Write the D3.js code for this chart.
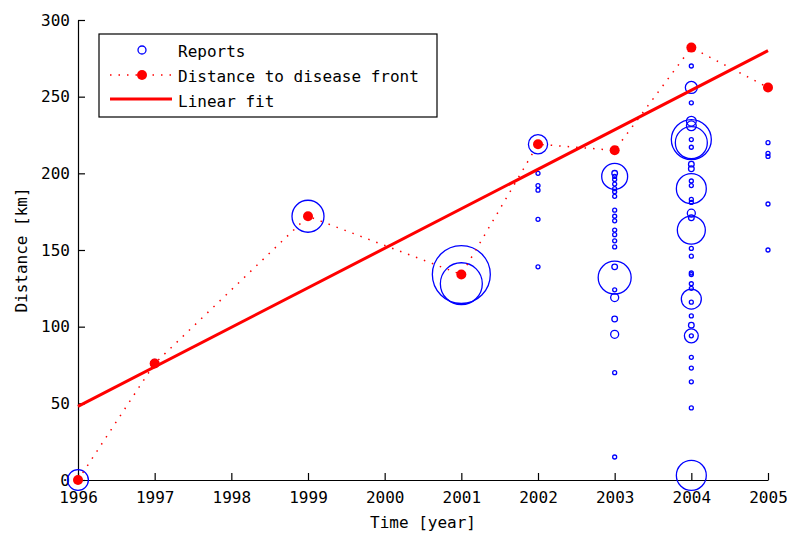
<!DOCTYPE html>
<html>
<head>
<meta charset="utf-8">
<script src="https://cdn.jsdelivr.net/npm/d3@7"></script>
<style>
  body { margin: 0; background: #fff; }
  text { font-family: "DejaVu Sans Mono", monospace; }
</style>
</head>
<body>
<div id="chart"></div>
<script>
// Distance to disease front per year
var frontYears = [1996, 1997, 1999, 2001, 2002, 2003, 2004, 2005];
var frontDist  = [0, 76, 172, 134, 219, 215, 282, 256];

// Linear fit end points
var fitYears = [1996, 2005];
var fitDist  = [48, 280];

// Individual reports: year, distance [km], number of reports (marker size)
var reportYear = [
  1996, 1997, 1999, 2001, 2001,
  2002, 2002, 2002, 2002, 2002, 2002,
  2003, 2003, 2003, 2003, 2003, 2003, 2003, 2003, 2003, 2003, 2003, 2003, 2003, 2003,
  2003, 2003, 2003, 2003, 2003, 2003, 2003, 2003, 2003,
  2004, 2004, 2004, 2004, 2004, 2004, 2004, 2004, 2004, 2004, 2004, 2004,
  2004, 2004, 2004, 2004, 2004, 2004, 2004, 2004, 2004, 2004, 2004, 2004,
  2004, 2004, 2004, 2004, 2004, 2004, 2004, 2004, 2004, 2004, 2004, 2004,
  2005, 2005, 2005, 2005, 2005
];
var reportDist = [
  0, 76, 172, 134, 128,
  219, 200, 192, 189, 170, 139,
  198, 200, 198, 196, 193, 190, 188, 185, 176, 172, 169, 163, 160, 156,
  152, 132, 139, 119, 124, 105, 95, 70, 15,
  270, 256, 246, 234, 231, 222, 220, 222, 217, 206, 203, 190,
  195, 192, 183, 181, 174, 171, 163, 151, 146, 135, 134, 128,
  125, 118, 116, 107, 101, 94, 94, 80, 73, 64, 47, 3,
  220, 213, 211, 180, 150
];
var reportCount = [
  27, 4, 64, 210, 110,
  23, 1, 1, 1, 1, 1,
  42, 2, 1, 1, 1, 1, 1, 1, 1, 1, 1, 1, 1, 1,
  1, 68, 2, 4, 1, 2, 4, 1, 1,
  1, 9, 1, 6, 6, 100, 64, 1, 1, 2, 2, 56,
  1, 1, 1, 1, 4, 2, 49, 1, 1, 1, 1, 1,
  1, 25, 1, 1, 2, 12, 1, 1, 1, 1, 1, 56,
  1, 1, 1, 1, 1
];

var yTicks = [0, 50, 100, 150, 200, 250, 300];
var xTicks = [1996, 1997, 1998, 1999, 2000, 2001, 2002, 2003, 2004, 2005];

var W = 787, H = 536;
var plot = {left: 78, right: 768, top: 20, bottom: 480};

var svg = d3.select("#chart").append("svg")
    .attr("width", W)
    .attr("height", H);

svg.append("rect").attr("width", W).attr("height", H).attr("fill", "#fff");

var x = d3.scaleLinear().domain([1996, 2005]).range([plot.left, plot.right]);
var y = d3.scaleLinear().domain([0, 300]).range([plot.bottom, plot.top]);
var r = d3.scaleSqrt().domain([0, 1]).range([0, 2]);

// Axes (ticks point inward, no box)
var xAxis = svg.append("g")
    .attr("transform", "translate(0," + plot.bottom + ")")
    .call(d3.axisBottom(x).tickValues(xTicks).tickFormat(d3.format("d"))
        .tickSize(-7).tickSizeOuter(0).tickPadding(12));
var yAxis = svg.append("g")
    .attr("transform", "translate(" + plot.left + ",0)")
    .call(d3.axisLeft(y).tickValues(yTicks)
        .tickSize(-7).tickSizeOuter(0).tickPadding(8));

[xAxis, yAxis].forEach(function(g) {
  g.selectAll("path, line").attr("stroke", "#000").attr("stroke-width", 1.2);
  g.selectAll("text")
    .attr("fill", "#000")
    .style("font-family", "'DejaVu Sans Mono', monospace")
    .style("font-size", "16px");
});

// Axis labels
svg.append("text")
    .attr("x", (plot.left + plot.right) / 2)
    .attr("y", 528)
    .attr("text-anchor", "middle")
    .attr("font-size", 16)
    .text("Time [year]");

svg.append("text")
    .attr("transform", "translate(27," + (plot.top + plot.bottom) / 2 + ") rotate(-90)")
    .attr("text-anchor", "middle")
    .attr("font-size", 16)
    .text("Distance [km]");

// Reports
var reports = reportYear.map(function(d, i) {
  return {year: d, dist: reportDist[i], count: reportCount[i]};
});

svg.selectAll(".report")
    .data(reports)
    .enter().append("circle")
    .attr("class", "report")
    .attr("cx", function(d) { return x(d.year); })
    .attr("cy", function(d) { return y(d.dist); })
    .attr("r", function(d) { return r(d.count); })
    .attr("fill", "none")
    .attr("stroke", "#0000ff")
    .attr("stroke-width", 1.3);

// Linear fit
var line = d3.line()
    .x(function(d) { return x(d[0]); })
    .y(function(d) { return y(d[1]); });

svg.append("path")
    .datum(fitYears.map(function(d, i) { return [d, fitDist[i]]; }))
    .attr("d", line)
    .attr("fill", "none")
    .attr("stroke", "#ff0000")
    .attr("stroke-width", 3);

// Distance to disease front
var front = frontYears.map(function(d, i) { return [d, frontDist[i]]; });

svg.append("path")
    .datum(front)
    .attr("d", line)
    .attr("fill", "none")
    .attr("stroke", "#ff0000")
    .attr("stroke-width", 1.5)
    .attr("stroke-dasharray", "1.5,7");

svg.selectAll(".front")
    .data(front)
    .enter().append("circle")
    .attr("class", "front")
    .attr("cx", function(d) { return x(d[0]); })
    .attr("cy", function(d) { return y(d[1]); })
    .attr("r", 5)
    .attr("fill", "#ff0000");

// Legend
var legend = svg.append("g");
legend.append("rect")
    .attr("x", 99).attr("y", 34)
    .attr("width", 338).attr("height", 83)
    .attr("fill", "#fff")
    .attr("stroke", "#000")
    .attr("stroke-width", 1.2);

legend.append("circle")
    .attr("cx", 142).attr("cy", 50).attr("r", 4)
    .attr("fill", "none").attr("stroke", "#0000ff").attr("stroke-width", 1.3);

legend.append("line")
    .attr("x1", 110).attr("x2", 172).attr("y1", 75).attr("y2", 75)
    .attr("stroke", "#ff0000").attr("stroke-width", 1.5)
    .attr("stroke-dasharray", "1.5,7");
legend.append("circle")
    .attr("cx", 142).attr("cy", 75).attr("r", 5)
    .attr("fill", "#ff0000");

legend.append("line")
    .attr("x1", 110).attr("x2", 172).attr("y1", 99).attr("y2", 99)
    .attr("stroke", "#ff0000").attr("stroke-width", 3);

var labels = ["Reports", "Distance to disease front", "Linear fit"];
legend.selectAll(".lab")
    .data(labels)
    .enter().append("text")
    .attr("class", "lab")
    .attr("x", 178)
    .attr("y", function(d, i) { return 57 + i * 25; })
    .attr("font-size", 16)
    .attr("fill", "#000")
    .text(function(d) { return d; });
</script>
</body>
</html>
